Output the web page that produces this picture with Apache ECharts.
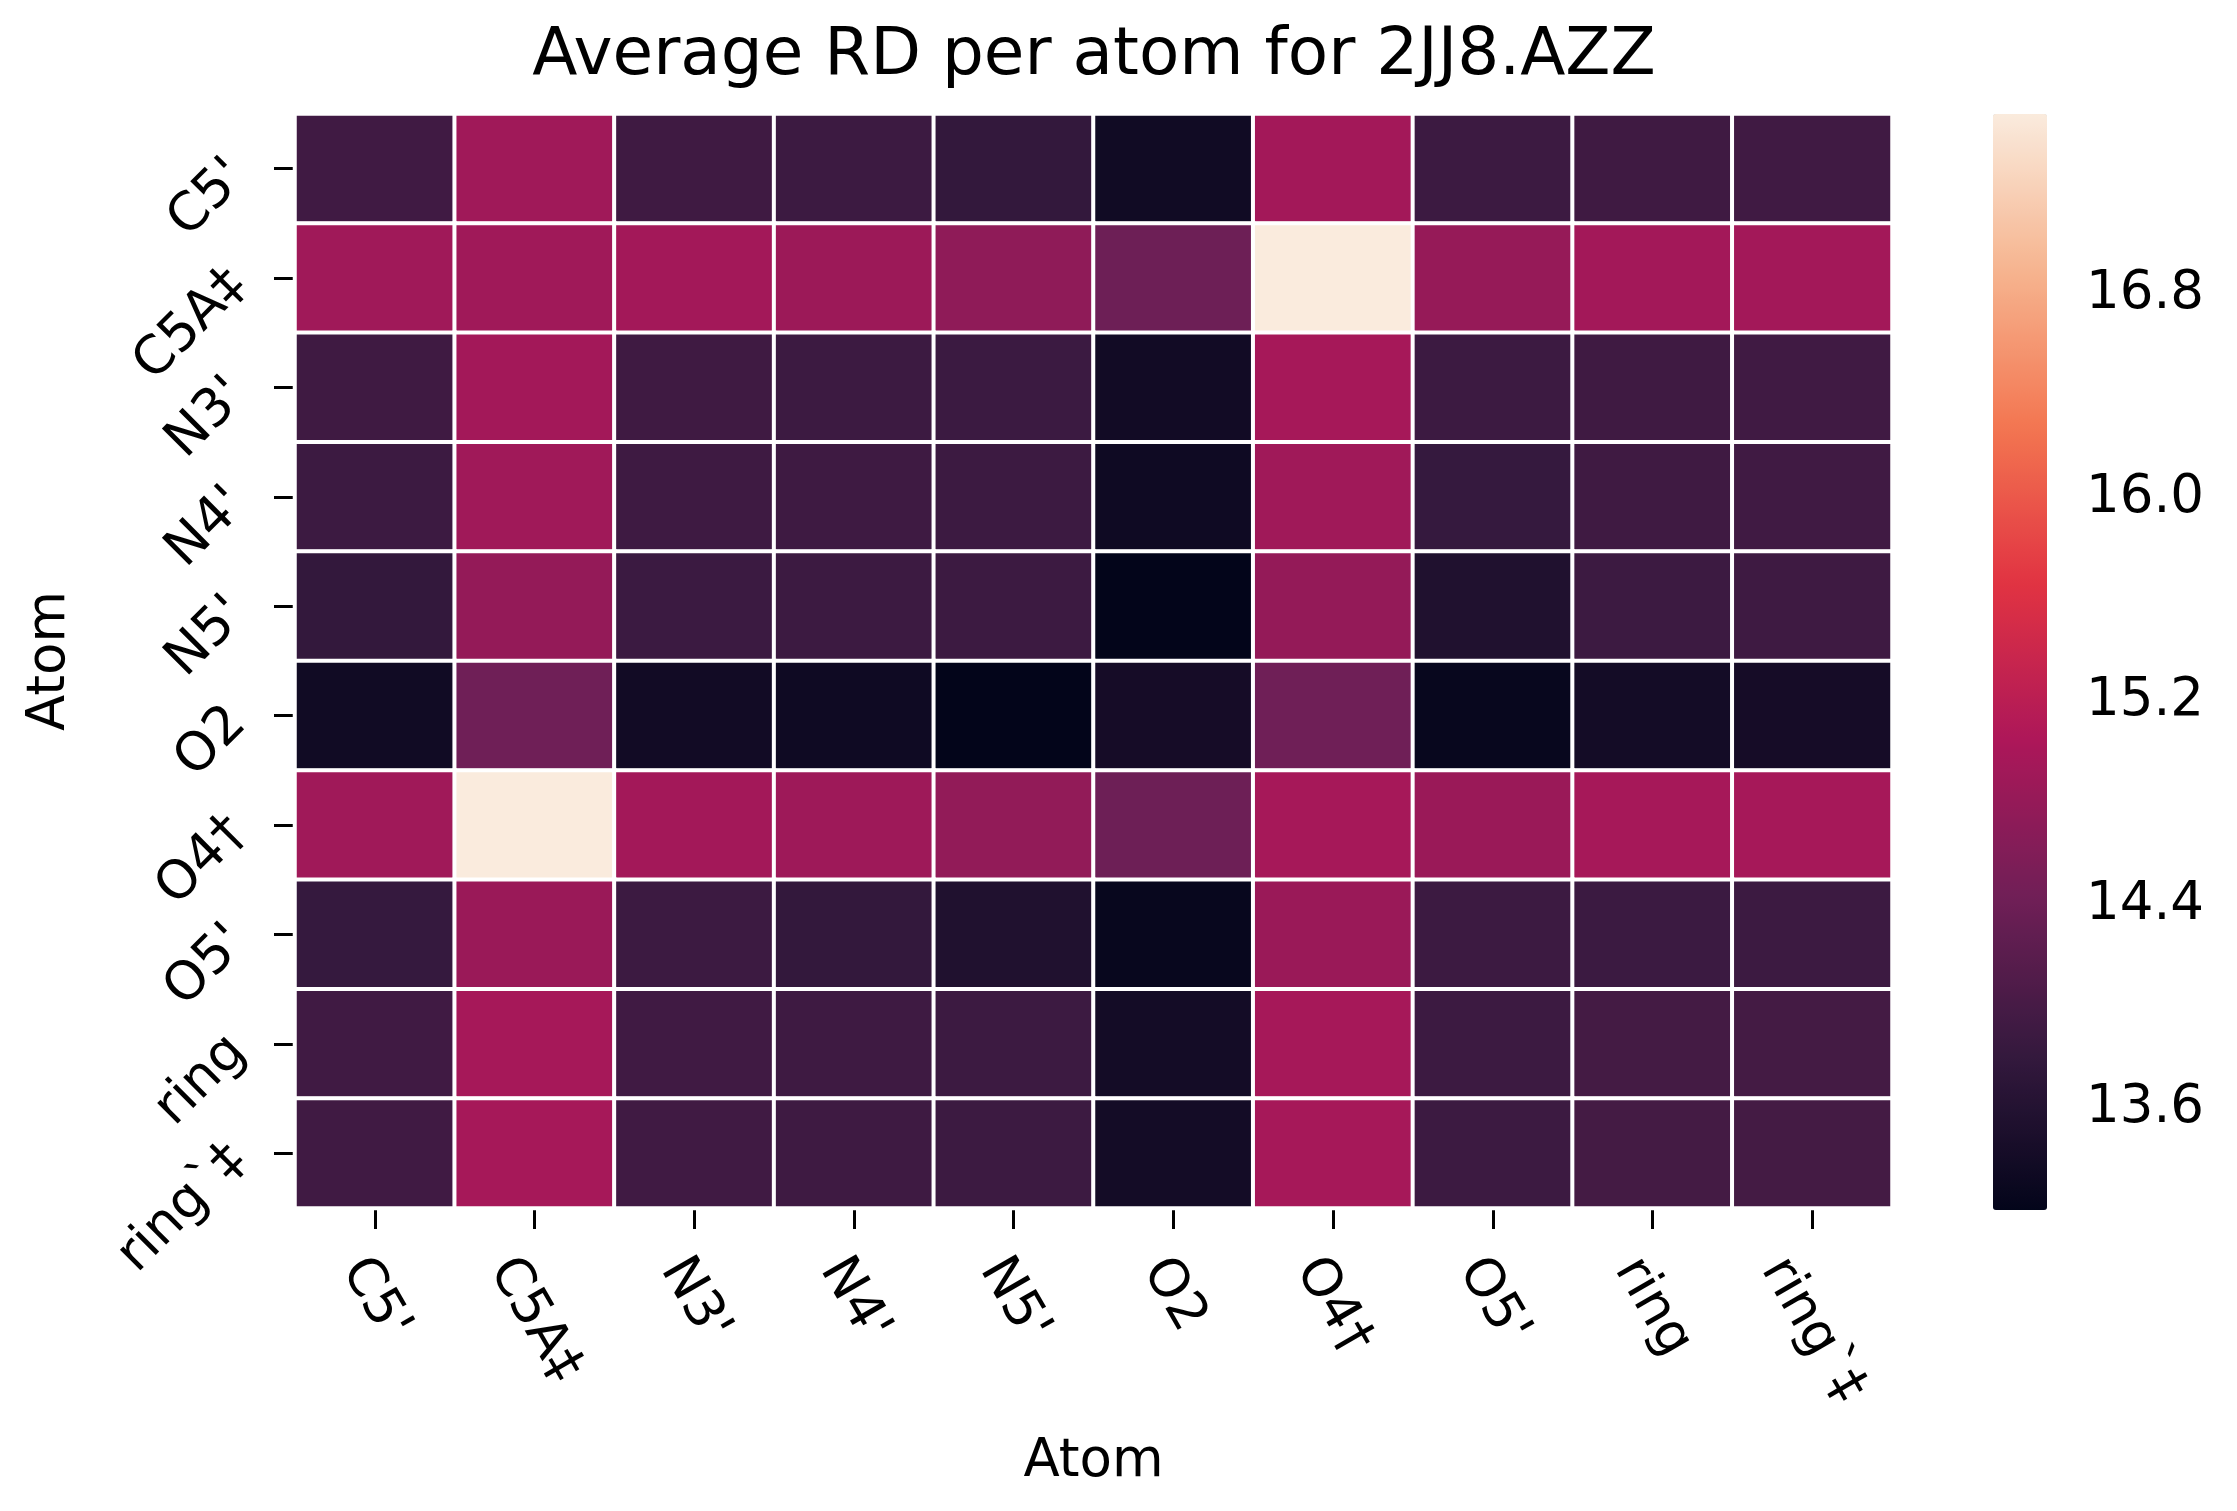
<!DOCTYPE html>
<html>
<head>
<meta charset="utf-8">
<script src="https://cdn.jsdelivr.net/npm/echarts@6/dist/echarts.min.js"></script>
<style>
html,body{margin:0;padding:0;background:#fff;}
#chart{width:2237px;height:1511px;}
</style>
</head>
<body>
<div id="chart"></div>
<script>
// Categories (same for both axes)
const xCategories = ["C5'", "C5A‡", "N3'", "N4'", "N5'", "O2", "O4†", "O5'", "ring", "ring`‡"];
const yCategories = ["C5'", "C5A‡", "N3'", "N4'", "N5'", "O2", "O4†", "O5'", "ring", "ring`‡"];

// Average RD values, one array per row (y category), columns follow xCategories
const rowC5 =    [13.93, 14.92, 13.92, 13.89, 13.79, 13.37, 14.95, 13.89, 13.92, 13.93];
const rowC5A =   [14.92, 14.92, 14.95, 14.88, 14.74, 14.40, 17.51, 14.81, 14.95, 14.95];
const rowN3 =    [13.92, 14.95, 13.92, 13.89, 13.88, 13.38, 14.98, 13.89, 13.92, 13.93];
const rowN4 =    [13.89, 14.92, 13.91, 13.91, 13.89, 13.35, 14.92, 13.82, 13.92, 13.93];
const rowN5 =    [13.79, 14.79, 13.88, 13.89, 13.89, 13.20, 14.79, 13.56, 13.89, 13.91];
const rowO2 =    [13.37, 14.42, 13.38, 13.35, 13.20, 13.43, 14.42, 13.26, 13.41, 13.43];
const rowO4 =    [14.92, 17.51, 14.95, 14.90, 14.77, 14.40, 14.98, 14.86, 14.98, 14.98];
const rowO5 =    [13.82, 14.86, 13.89, 13.79, 13.56, 13.26, 14.86, 13.89, 13.88, 13.89];
const rowRing =  [13.93, 14.98, 13.93, 13.91, 13.89, 13.41, 14.98, 13.89, 13.97, 13.97];
const rowRingB = [13.93, 14.98, 13.93, 13.91, 13.89, 13.41, 14.98, 13.89, 13.97, 13.97];
const rows = [rowC5, rowC5A, rowN3, rowN4, rowN5, rowO2, rowO4, rowO5, rowRing, rowRingB];

// Colour scale range and colorbar ticks
const colorMin = 13.2;
const colorMax = 17.51;
const colorbarTicks = [13.6, 14.4, 15.2, 16.0, 16.8];
const rocketColors = ['#03051a', '#35193e', '#701f57', '#ad1759', '#e13342', '#f37651', '#f6b48f', '#faebdd'];

const heatData = [];
rows.forEach((row, yi) => row.forEach((v, xi) => heatData.push([xi, yi, v])));

const FONT = 'DejaVu Sans';
const FS = 53;

// Measure label widths so rotated x labels can be centred by their bounding box under the tick
const ctx = document.createElement('canvas').getContext('2d');
ctx.font = FS + 'px "' + FONT + '"';
const measure = s => ctx.measureText(s).width;

const xRich = {};
xCategories.forEach((c, i) => {
  const L = measure(c);
  xRich['x' + i] = {fontSize: FS, fontFamily: FONT, color: '#000',
    padding: [Math.round(0.433 * L), 0, 0, Math.round(0.75 * L)]};
});

const chart = echarts.init(document.getElementById('chart'), null, {renderer: 'canvas'});
chart.setOption({
  animation: false,
  backgroundColor: '#ffffff',
  title: {
    text: 'Average RD per atom for 2JJ8.AZZ',
    left: 1094,
    textAlign: 'center',
    top: 24,
    padding: 0,
    textStyle: {fontFamily: FONT, fontSize: 66, fontWeight: 'normal', color: '#000'}
  },
  grid: [
    {left: 295, top: 114, width: 1597, height: 1094},
    {left: 1993, top: 114, width: 54, height: 1096}
  ],
  xAxis: [
    {
      type: 'category', gridIndex: 0, data: xCategories,
      axisLine: {show: false},
      axisTick: {show: true, alignWithLabel: true, length: 21, lineStyle: {color: '#000', width: 3}},
      axisLabel: {rotate: -60, margin: 54, fontSize: FS, fontFamily: FONT, color: '#000', interval: 0,
        align: 'center', verticalAlign: 'middle',
        formatter: (v, i) => '{x' + i + '|' + v + '}', rich: xRich},
      splitLine: {show: false},
      name: 'Atom', nameLocation: 'middle', nameGap: 228,
      nameTextStyle: {fontSize: FS, fontFamily: FONT, color: '#000'}
    },
    {type: 'value', gridIndex: 1, show: false, min: 0, max: 1}
  ],
  yAxis: [
    {
      type: 'category', gridIndex: 0, data: yCategories, inverse: true,
      axisLine: {show: false},
      axisTick: {show: true, alignWithLabel: true, length: 21, lineStyle: {color: '#000', width: 3}},
      axisLabel: {rotate: 45, margin: 57, fontSize: FS, fontFamily: FONT, color: '#000', interval: 0,
        align: 'right', verticalAlign: 'middle'},
      splitLine: {show: false},
      name: 'Atom', nameLocation: 'middle', nameGap: 218, nameRotate: 90,
      nameTextStyle: {fontSize: FS, fontFamily: FONT, color: '#000'}
    },
    {
      type: 'value', gridIndex: 1, position: 'right', min: colorMin, max: colorMax,
      axisLine: {show: false},
      splitLine: {show: false},
      axisTick: {show: true, customValues: colorbarTicks, length: 21, lineStyle: {color: '#000', width: 3}},
      axisLabel: {customValues: colorbarTicks, margin: 39, fontSize: FS, fontFamily: FONT, color: '#000',
        formatter: v => Number(v).toFixed(1)}
    }
  ],
  visualMap: {
    type: 'continuous',
    seriesIndex: 0,
    min: colorMin, max: colorMax,
    calculable: false,
    orient: 'vertical',
    left: 1993, top: 114,
    padding: 0,
    itemWidth: 54, itemHeight: 1096,
    text: null,
    showLabel: false,
    hoverLink: false,
    inRange: {color: rocketColors}
  },
  series: [
    {
      type: 'heatmap', xAxisIndex: 0, yAxisIndex: 0,
      data: heatData,
      itemStyle: {borderColor: '#ffffff', borderWidth: 4},
      emphasis: {disabled: true}
    },
    {type: 'line', xAxisIndex: 1, yAxisIndex: 1, data: [], silent: true}
  ]
});
</script>
</body>
</html>
